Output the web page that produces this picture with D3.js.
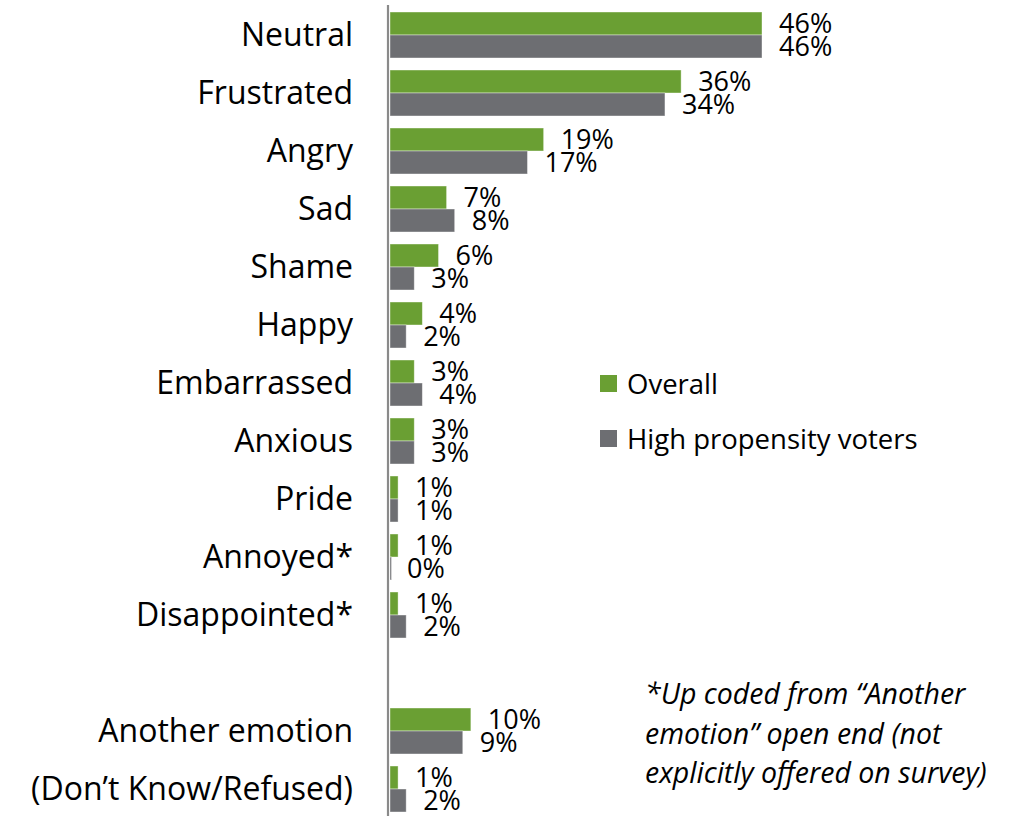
<!DOCTYPE html>
<html>
<head>
<meta charset="utf-8">
<script src="https://cdn.jsdelivr.net/npm/d3@7"></script>
<style>
  html, body { margin: 0; padding: 0; background: #fff; }
  svg { display: block; }
  text { font-family: "Open Sans", "Noto Sans", sans-serif; fill: #000; }
</style>
</head>
<body>
<svg id="chart" width="1016" height="816"></svg>
<script>
// Emotion categories, top to bottom; a blank row separates the last two
const categories = ["Neutral", "Frustrated", "Angry", "Sad", "Shame", "Happy",
  "Embarrassed", "Anxious", "Pride", "Annoyed*", "Disappointed*",
  "Another emotion", "(Don\u2019t Know/Refused)"];
const gapBefore = "Another emotion";

// Percent of respondents
const overall = [46, 36, 19, 7, 6, 4, 3, 3, 1, 1, 1, 10, 1];
const highPropensity = [46, 34, 17, 8, 3, 2, 4, 3, 1, 0, 2, 9, 2];

const seriesNames = ["Overall", "High propensity voters"];
const seriesColors = ["#6a9f33", "#6d6e72"];

const footnote = ["*Up coded from \u201cAnother", "emotion\u201d open end (not", "explicitly offered on survey)"];

const svg = d3.select("#chart");

// Band domain with a spacer slot inserted before the gap category
const rows = [];
categories.forEach(c => { if (c === gapBefore) rows.push("__gap__"); rows.push(c); });

const y = d3.scaleBand()
  .domain(rows)
  .range([6, 818])
  .paddingInner(0.207)
  .paddingOuter(0.1035);

const x = d3.scaleLinear().domain([0, 46]).range([390, 762]);

const bw = y.bandwidth() / 2;

const data = categories.map((c, i) => ({ cat: c, vals: [overall[i], highPropensity[i]] }));

const g = svg.append("g");

// Bars with value labels
data.forEach(d => {
  d.vals.forEach((v, s) => {
    g.append("rect")
      .attr("x", x(0))
      .attr("y", y(d.cat) + s * bw)
      .attr("width", Math.max(x(v) - x(0), 1.5))
      .attr("height", bw)
      .attr("fill", seriesColors[s])
      .attr("stroke", "#ffffff")
      .attr("stroke-opacity", 0.5)
      .attr("stroke-width", 0.8);
    g.append("text")
      .attr("x", x(v) + 17)
      .attr("y", y(d.cat) + (s + 1) * bw - 2)
      .attr("font-size", 27)
      .text(v + "%");
  });
});

// Category labels
g.selectAll("text.cat")
  .data(categories)
  .join("text")
  .attr("class", "cat")
  .attr("x", 353)
  .attr("y", d => y(d) + y.bandwidth() / 2 + 11)
  .attr("text-anchor", "end")
  .attr("font-size", 32)
  .text(d => d);

// Vertical axis line
svg.append("line")
  .attr("x1", 388).attr("x2", 388)
  .attr("y1", 5).attr("y2", 816)
  .attr("stroke", "#8a8a8a")
  .attr("stroke-width", 2.2);

// Legend
const legend = svg.append("g");
seriesNames.forEach((name, i) => {
  const ly = 384 + i * 55;
  legend.append("rect")
    .attr("x", 600).attr("y", ly - 9)
    .attr("width", 17).attr("height", 17)
    .attr("fill", seriesColors[i]);
  legend.append("text")
    .attr("x", 627).attr("y", ly)
    .attr("dy", "0.36em")
    .attr("font-size", 27.5)
    .text(name);
});

// Footnote
svg.append("g").selectAll("text")
  .data(footnote)
  .join("text")
  .attr("x", 645)
  .attr("y", (d, i) => 704 + i * 39.5)
  .attr("font-size", 28.5)
  .attr("font-style", "italic")
  .text(d => d);
</script>
</body>
</html>
